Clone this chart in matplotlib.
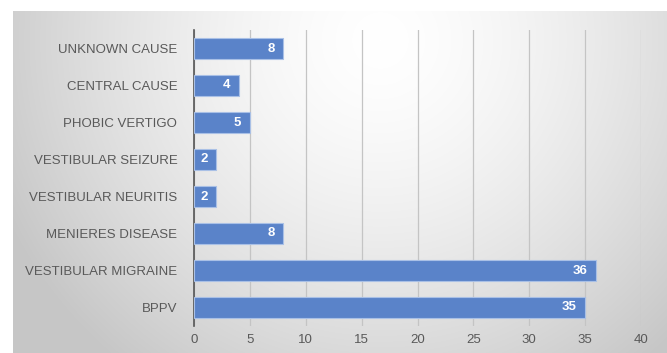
import matplotlib.pyplot as plt
import numpy as np

# data, bottom to top as drawn
causes = ['BPPV', 'VESTIBULAR MIGRAINE', 'MENIERES DISEASE', 'VESTIBULAR NEURITIS',
          'VESTIBULAR SEIZURE', 'PHOBIC VERTIGO', 'CENTRAL CAUSE', 'UNKNOWN CAUSE']
counts = [35, 36, 8, 2, 2, 5, 4, 8]
xticks = [0, 5, 10, 15, 20, 25, 30, 35, 40]

plt.rcParams['font.family'] = ['Liberation Sans', 'DejaVu Sans']

W, H = 667, 353
fig = plt.figure(figsize=(W / 100, H / 100), dpi=100)

# radial gray background of the chart area
bg = fig.add_axes([13 / W, 0, 1 - 13 / W, 1 - 11 / H])
yy, xx = np.mgrid[11:H, 13:W]
d = np.sqrt((xx - 380) ** 2 + (yy - 40) ** 2)
v = np.clip(1 - 0.21 * (d / 400) ** 1.5, 0.78, 1.0)
bg.imshow(np.dstack([v, v, v]), aspect='auto', interpolation='bilinear')
bg.axis('off')

ax = fig.add_axes([194 / W, 1 - 326 / H, (641 - 194) / W, (326 - 30) / H])
ax.patch.set_alpha(0)

y = np.arange(len(causes))
ax.barh(y, counts, height=0.57, color='#5a83c9', edgecolor='#a9c0e6', linewidth=0.8, zorder=3)
for yi, c in zip(y, counts):
    ax.text(c - 0.8, yi, str(c), ha='right', va='center', color='white',
            fontsize=9.5, fontweight='bold', zorder=4)

ax.set_xlim(0, 40)
ax.set_ylim(-0.5, len(causes) - 0.5)
ax.set_xticks(xticks)
ax.set_yticks(y)
ax.set_yticklabels(causes)
ax.tick_params(axis='both', length=0, colors='#595959', labelsize=9.5)
ax.tick_params(axis='y', pad=12)
ax.tick_params(axis='x', pad=6)
ax.grid(axis='x', color='#c4c4c4', linewidth=0.9, zorder=0)
for s in ['top', 'right', 'bottom']:
    ax.spines[s].set_visible(False)
ax.spines['left'].set_color('#555555')
ax.spines['left'].set_linewidth(1.2)

fig.savefig('out.png', dpi=100)
